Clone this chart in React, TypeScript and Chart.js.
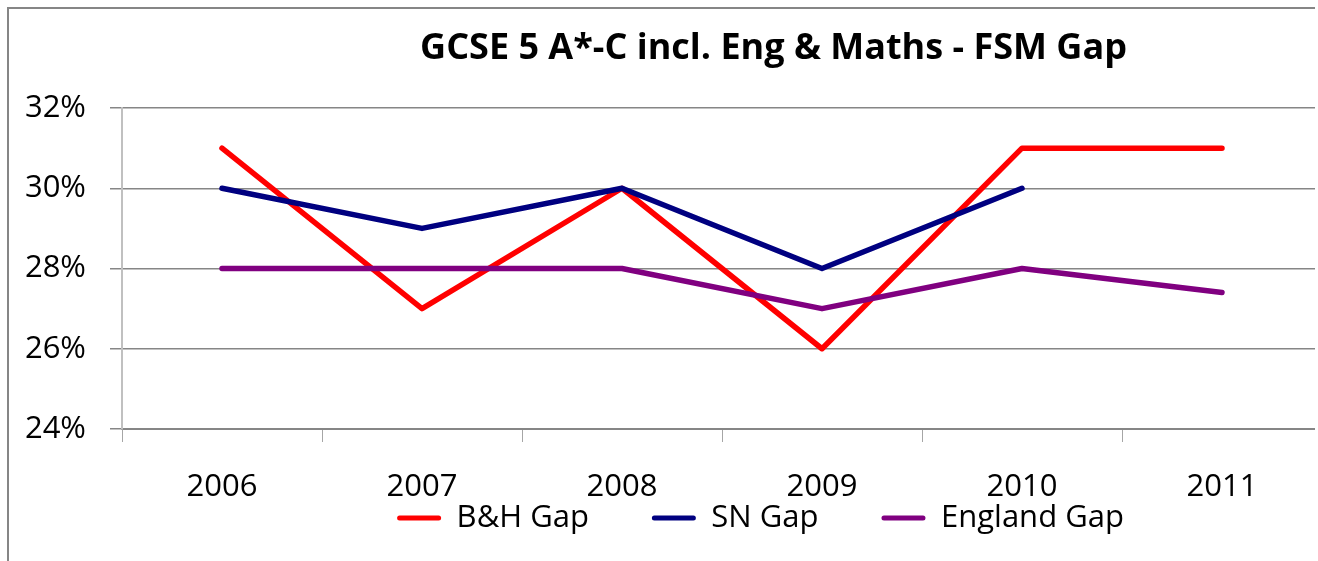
import React, { useEffect, useRef } from 'react';
import { Chart, registerables } from 'chart.js';

Chart.register(...registerables);

const years = ['2006', '2007', '2008', '2009', '2010', '2011'];
const bhGap = [31, 27, 30, 26, 31, 31];
const snGap = [30, 29, 30, 28, 30, null];
const englandGap = [28, 28, 28, 27, 28, 27.4];
const seriesNames = ['B&H Gap', 'SN Gap', 'England Gap'];
const seriesColors = ['#FF0000', '#000080', '#800080'];
const yTicks = [24, 26, 28, 30, 32];
const titleText = 'GCSE 5 A*-C incl. Eng & Maths - FSM Gap';

const FONT = "'Open Sans', 'Liberation Sans', sans-serif";

const shiftBoxes = {
  id: 'shiftBoxes',
  afterLayout(chart: any) {
    const t = chart.titleBlock;
    if (t) {
      t.left += 108;
      t.right += 108;
    }
    const l = chart.legend;
    if (l) {
      l.left += 95;
      l.right += 95;
      const dy = 430.5 - l.top;
      l.top += dy;
      l.bottom += dy;
    }
  },
};

export default function App() {
  const ref = useRef<HTMLCanvasElement | null>(null);

  useEffect(() => {
    if (!ref.current) return;
    const seriesData = [bhGap, snGap, englandGap];
    const chart = new Chart(ref.current, {
      type: 'line',
      data: {
        labels: years,
        datasets: seriesData.map((d, i) => ({
          label: seriesNames[i],
          data: d,
          borderColor: seriesColors[i],
          backgroundColor: seriesColors[i],
          borderWidth: 5.5,
          pointRadius: 0,
          pointHoverRadius: 0,
          tension: 0,
          borderCapStyle: 'round',
          borderJoinStyle: 'round',
          spanGaps: false,
          order: 3 - i,
        })),
      },
      options: {
        responsive: false,
        animation: false,
        events: [],
        layout: { padding: { left: 0, right: 0, top: 0, bottom: -52 } },
        plugins: {
          tooltip: { enabled: false },
          title: {
            display: true,
            text: titleText,
            color: '#000',
            font: { family: FONT, size: 36, weight: 'bold', lineHeight: 1.2 },
            padding: { top: 18.4, bottom: 37.4 },
          },
          legend: {
            display: true,
            position: 'bottom',
            labels: {
              color: '#000',
              font: { family: FONT, size: 31 },
              boxWidth: 44,
              boxHeight: 5,
              padding: 63,
              useBorderRadius: true,
              borderRadius: 2.5,
              sort: (a: any, b: any) => a.datasetIndex - b.datasetIndex,
              generateLabels: (c: any) =>
                (Chart.defaults.plugins.legend.labels.generateLabels as any)(c).map((it: any) => ({
                  ...it,
                  lineWidth: 0,
                })),
            },
          },
        },
        scales: {
          x: {
            type: 'category',
            offset: true,
            grid: {
              display: true,
              offset: true,
              drawOnChartArea: false,
              drawTicks: true,
              tickLength: 13,
              color: '#a6a6a6',
              lineWidth: 1,
            },
            border: { display: true, color: '#868686', width: 2 },
            ticks: {
              color: '#000',
              font: { family: FONT, size: 31 },
              padding: 27,
              maxRotation: 0,
              autoSkip: false,
            },
            afterFit: (s: any) => {
              s.height = 80;
            },
          },
          y: {
            min: yTicks[0],
            max: yTicks[yTicks.length - 1],
            grid: {
              color: '#868686',
              lineWidth: 1.5,
              tickLength: 12,
              drawTicks: true,
            },
            border: { display: true, color: '#c0c0c0', width: 2 },
            ticks: {
              stepSize: yTicks[1] - yTicks[0],
              color: '#000',
              font: { family: FONT, size: 31 },
              padding: 24,
              callback: (v: any) => `${v}%`,
            },
            afterFit: (s: any) => {
              s.width = 113;
            },
          },
        },
      },
      plugins: [shiftBoxes],
    } as any);
    return () => chart.destroy();
  }, []);

  return (
    <div
      style={{
        position: 'fixed',
        left: 7,
        top: 7,
        width: 1308,
        height: 554,
        overflow: 'hidden',
        borderLeft: '2px solid #868686',
        borderTop: '2px solid #868686',
        boxSizing: 'border-box',
        background: '#fff',
      }}
    >
      <canvas ref={ref} width={1313} height={552} style={{ display: 'block' }} />
    </div>
  );
}
